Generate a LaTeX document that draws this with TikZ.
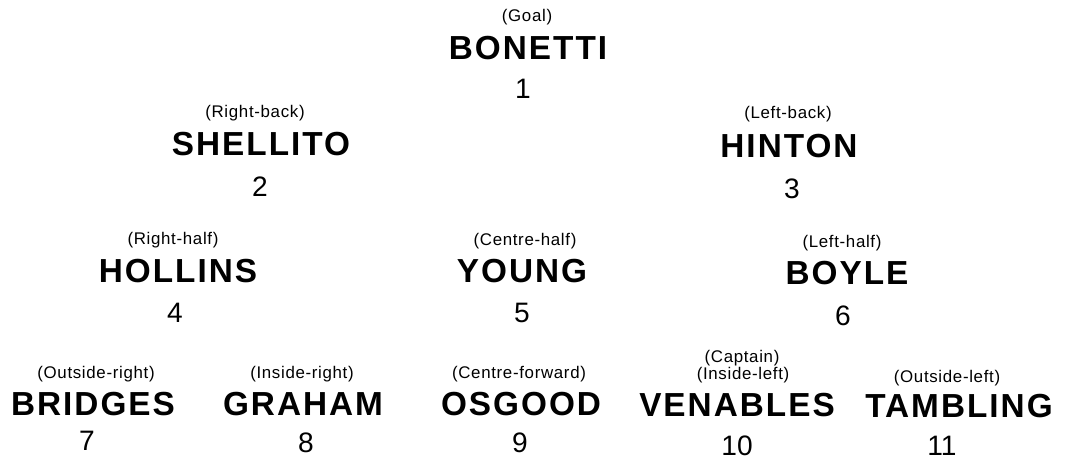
\documentclass[tikz,border=0pt]{standalone}
\usepackage{fontspec}
\setmainfont{Liberation Sans}
\newfontfamily\namefont[LetterSpace=6]{Liberation Sans Bold}
\newfontfamily\rolefont[LetterSpace=4]{Liberation Sans}
\usetikzlibrary{positioning}

\tikzset{
  player/.style={anchor=base, inner sep=0pt, font=\namefont\fontsize{23.7}{24}\selectfont},
  role/.style={anchor=base, inner sep=0pt, font=\rolefont\fontsize{12}{13}\selectfont},
  shirt/.style={anchor=base, inner sep=0pt, font=\fontsize{20}{21}\selectfont}
}

\begin{document}
\begin{tikzpicture}[x=0.025cm, y=-0.025cm]
            \useasboundingbox (0,0) rectangle (1067,461);

            % Goal
            \node[role] (goalrole) at (527,21) {(Goal)};
            \node[player] (bonetti) at (528,59) {BONETTI};
            \node[shirt] (one) at (523,98) {1};

            % Backs
            \node[role] (rbrole) at (255,117) {(Right-back)};
            \node[player] (shellito) at (261,155) {SHELLITO};
            \node[shirt] (two) at (260,196) {2};

            \node[role] (lbrole) at (788,118) {(Left-back)};
            \node[player] (hinton) at (789,157) {HINTON};
            \node[shirt] (three) at (792,198) {3};

            % Half-backs
            \node[role] (rhrole) at (173,244) {(Right-half)};
            \node[player] (hollins) at (178,282) {HOLLINS};
            \node[shirt] (four) at (175,322) {4};

            \node[role] (chrole) at (525,245) {(Centre-half)};
            \node[player] (young) at (522,282) {YOUNG};
            \node[shirt] (five) at (522,322) {5};

            \node[role] (lhrole) at (842,247) {(Left-half)};
            \node[player] (boyle) at (847,284) {BOYLE};
            \node[shirt] (six) at (843,325) {6};

            % Forwards
            \node[role] (orrole) at (96,378) {(Outside-right)};
            \node[player] (bridges) at (93,415) {BRIDGES};
            \node[shirt] (seven) at (87,450) {7};

            \node[role] (irrole) at (302,378) {(Inside-right)};
            \node[player] (graham) at (303,415) {GRAHAM};
            \node[shirt] (eight) at (306,452) {8};

            \node[role] (cfrole) at (519,378) {(Centre-forward)};
            \node[player] (osgood) at (521,415) {OSGOOD};
            \node[shirt] (nine) at (520,452) {9};

            \node[role] (captain) at (742,362) {(Captain)};
            \node[role] (ilrole) at (743,379) {(Inside-left)};
            \node[player] (venables) at (737,416) {VENABLES};
            \node[shirt] (ten) at (737,455) {10};

            \node[role] (olrole) at (947,382) {(Outside-left)};
            \node[player] (tambling) at (959,417) {TAMBLING};
            \node[shirt] (eleven) at (942,455) {11};
\end{tikzpicture}
\end{document}
